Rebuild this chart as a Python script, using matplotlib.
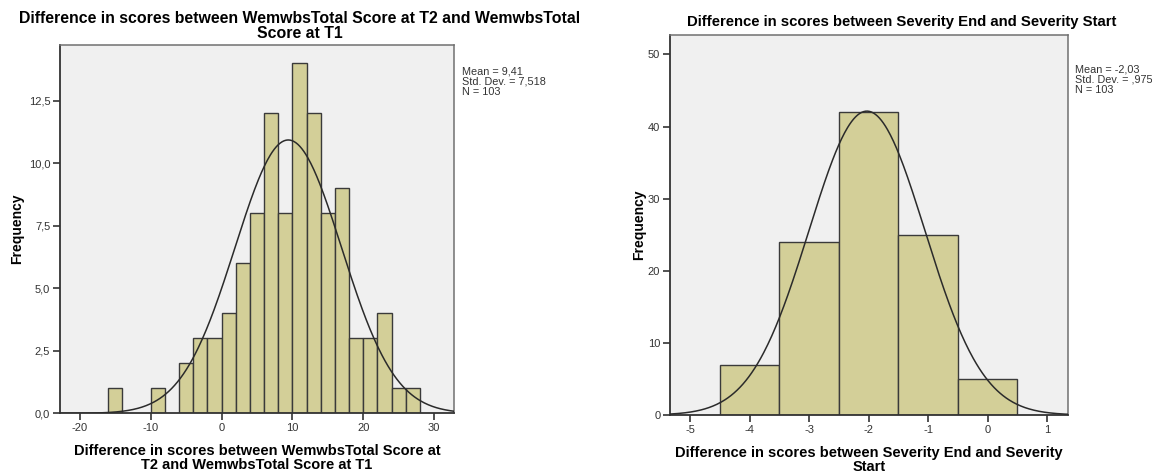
import numpy as np
import matplotlib
matplotlib.use("Agg")
import matplotlib.pyplot as plt

plt.rcParams["font.family"] = ["Liberation Sans", "DejaVu Sans"]

# left histogram: WemwbsTotal difference, bins of width 2
left_edges = [-16, -14, -12, -10, -8, -6, -4, -2, 0, 2, 4, 6, 8, 10, 12, 14, 16, 18, 20, 22, 24, 26, 28]
left_counts = [1, 0, 0, 1, 0, 2, 3, 3, 4, 6, 8, 12, 8, 14, 12, 8, 9, 3, 3, 4, 1, 1]
left_mean, left_sd, left_n = 9.41, 7.518, 103
left_xticks = [-20, -10, 0, 10, 20, 30]
left_yticks = [0, 2.5, 5, 7.5, 10, 12.5]
left_yticklabels = ["0,0", "2,5", "5,0", "7,5", "10,0", "12,5"]
left_stats = ["Mean = 9,41", "Std. Dev. = 7,518", "N = 103"]

# right histogram: Severity difference, bins of width 1
right_edges = [-4.5, -3.5, -2.5, -1.5, -0.5, 0.5]
right_counts = [7, 24, 42, 25, 5]
right_mean, right_sd, right_n = -2.03, 0.975, 103
right_xticks = [-5, -4, -3, -2, -1, 0, 1]
right_yticks = [0, 10, 20, 30, 40, 50]
right_yticklabels = ["0", "10", "20", "30", "40", "50"]
right_stats = ["Mean = -2,03", "Std. Dev. = ,975", "N = 103"]

BAR_COLOR = "#d3cf98"
EDGE_COLOR = "#3a3a3a"
BG_COLOR = "#f0f0f0"


def draw_hist(ax, edges, counts, mean, sd, n, xlim, ylim, xticks, yticks, yticklabels, ypad):
    edges = np.array(edges, dtype=float)
    counts = np.array(counts, dtype=float)
    widths = np.diff(edges)
    keep = counts > 0
    ax.bar(edges[:-1][keep], counts[keep], width=widths[keep], align="edge",
           color=BAR_COLOR, edgecolor=EDGE_COLOR, linewidth=1.0, zorder=2)

    # fitted normal curve scaled to counts
    xs = np.linspace(xlim[0], xlim[1], 400)
    bw = widths[0]
    ys = n * bw / (sd * np.sqrt(2 * np.pi)) * np.exp(-0.5 * ((xs - mean) / sd) ** 2)
    ax.plot(xs, ys, color="#2b2b2b", linewidth=1.1, zorder=3)

    ax.set_xlim(*xlim)
    ax.set_ylim(*ylim)
    ax.set_facecolor(BG_COLOR)
    ax.set_xticks(xticks)
    ax.set_xticklabels([str(t) for t in xticks])
    ax.set_yticks(yticks)
    ax.set_yticklabels(yticklabels)
    ax.tick_params(axis="both", direction="out", length=5, width=1.2,
                   color="#333333", labelsize=8, labelcolor="#333333", pad=2)
    for side in ["left", "bottom"]:
        ax.spines[side].set_color("#333333")
        ax.spines[side].set_linewidth(1.3)
    for side in ["top", "right"]:
        ax.spines[side].set_color("#707070")
        ax.spines[side].set_linewidth(1.1)
    ax.set_ylabel("Frequency", fontsize=10, fontweight="bold", labelpad=ypad)


fig = plt.figure(figsize=(11.52, 4.73), dpi=100)

ax1 = fig.add_axes([0.0521, 0.126, 0.342, 0.779])
draw_hist(ax1, left_edges, left_counts, left_mean, left_sd, left_n,
          (-22.8, 32.8), (0, 14.73), left_xticks, left_yticks, left_yticklabels, 3)
ax1.set_xlabel("Difference in scores between WemwbsTotal Score at\nT2 and WemwbsTotal Score at T1",
               fontsize=10.5, fontweight="bold", linespacing=1.0, labelpad=8)
fig.text(300 / 1152, 1 - 26 / 473,
         "Difference in scores between WemwbsTotal Score at T2 and WemwbsTotal\nScore at T1",
         ha="center", va="center", fontsize=11.4, fontweight="bold", linespacing=1.05)
fig.text(462 / 1152, 1 - 66 / 473, "\n".join(left_stats),
         ha="left", va="top", fontsize=7.8, color="#333333", linespacing=1.05)

ax2 = fig.add_axes([0.5816, 0.1226, 0.3455, 0.8034])
draw_hist(ax2, right_edges, right_counts, right_mean, right_sd, right_n,
          (-5.34, 1.35), (0, 52.7), right_xticks, right_yticks, right_yticklabels, 1)
ax2.set_xlabel("Difference in scores between Severity End and Severity\nStart",
               fontsize=10.5, fontweight="bold", linespacing=1.0, labelpad=8)
fig.text(902 / 1152, 1 - 22 / 473,
         "Difference in scores between Severity End and Severity Start",
         ha="center", va="center", fontsize=10.7, fontweight="bold")
fig.text(1075 / 1152, 1 - 64 / 473, "\n".join(right_stats),
         ha="left", va="top", fontsize=7.8, color="#333333", linespacing=1.05)

fig.savefig("out.png", dpi=100)
plt.close(fig)
